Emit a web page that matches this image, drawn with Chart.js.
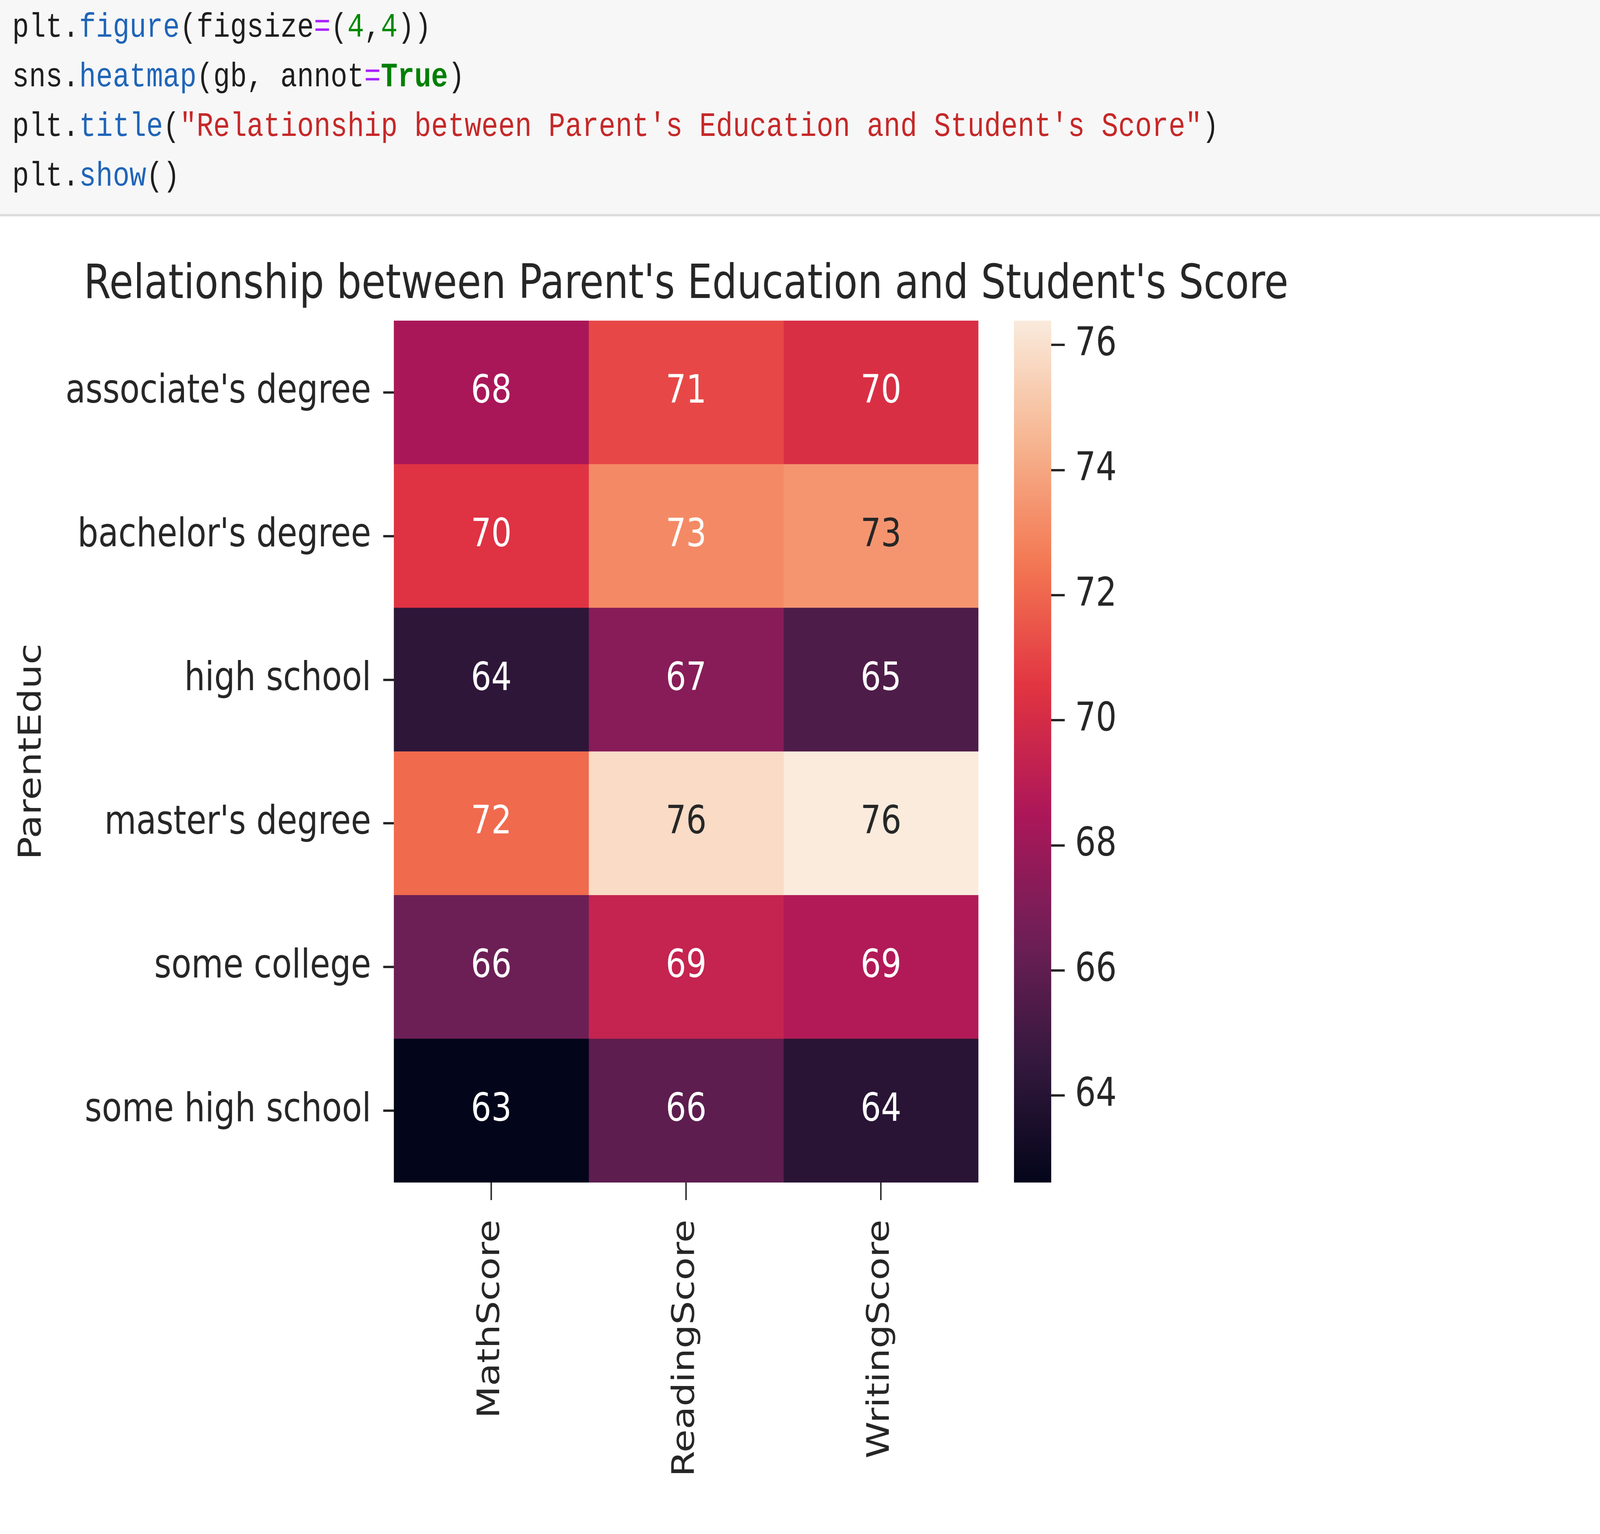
<!DOCTYPE html>
<html>
<head>
<meta charset="utf-8">
<script src="https://cdn.jsdelivr.net/npm/chart.js@4.4.1/dist/chart.umd.min.js"></script>
<style>
  html, body { margin: 0; padding: 0; background: #fff; overflow: hidden; width: 100%; height: 100%; }
  #frame { position: fixed; left: 0; top: 0; width: 100vw; height: 100vh; overflow: hidden; }
  /* page laid out in 6480x3928 picture pixels, squeezed by 1.3 sideways,
     then scaled to the window (the screenshot is stretched sideways) */
  #page {
    position: absolute; left: 0; top: 0;
    width: 4985px; height: 3928px;
    transform-origin: 0 0;
  }
  #code {
    position: absolute; left: 0; top: 0; width: 4985px; height: 548px;
    background: #f7f7f7; border-bottom: 6px solid #dcdcdc;
  }
  #code pre {
    margin: 0; padding: 8px 0 0 38px;
    font-family: "Liberation Mono", "DejaVu Sans Mono", monospace;
    font-size: 87px; line-height: 127px; color: #1e1e1e;
  }
  .pr { color: #2065b8; }
  .op { color: #aa22ff; }
  .nu { color: #008800; }
  .kw { color: #008000; font-weight: bold; }
  .st { color: #c62828; }
  .box { position: absolute; top: 565px; height: 3363px; }
</style>
</head>
<body>
<div id="frame">
<div id="page">
  <div id="code"><pre>plt.<span class="pr">figure</span>(figsize<span class="op">=</span>(<span class="nu">4</span>,<span class="nu">4</span>))
sns.<span class="pr">heatmap</span>(gb, annot<span class="op">=</span><span class="kw">True</span>)
plt.<span class="pr">title</span>(<span class="st">"Relationship between Parent's Education and Student's Score"</span>)
plt.<span class="pr">show</span>()</pre></div>
  <div class="box" style="left:0; width:4985px;"><canvas id="heat" width="4985" height="3363"></canvas></div>
  <div class="box" style="left:3159px; width:420px;"><canvas id="cbar" width="420" height="3363"></canvas></div>
</div>
</div>

<script>
// data (mean scores by parent's education)
const parentEduc = ["associate's degree", "bachelor's degree", "high school", "master's degree", "some college", "some high school"];
const scoreColumns = ["MathScore", "ReadingScore", "WritingScore"];
const mathScore    = [68.4, 70.4, 64.3, 72.1, 66.4, 62.61];
const readingScore = [71.1, 73.1, 67.3, 75.8, 69.4, 65.9];
const writingScore = [70.2, 73.45, 65.4, 76.39, 68.7, 64.1];
const colorbarTicks = [64, 66, 68, 70, 72, 74, 76];
const chartTitle = "Relationship between Parent's Education and Student's Score";
const yAxisTitle = "ParentEduc";

// fit the 6480x3928 layout into whatever the window really is
const kx = window.innerWidth / 6480;
const ky = window.innerHeight / 3928;
document.getElementById('page').style.transform = 'scale(' + (1.3 * kx) + ',' + ky + ')';

const columns = [mathScore, readingScore, writingScore];
const allValues = mathScore.concat(readingScore, writingScore);
const vmin = Math.min(...allValues);
const vmax = Math.max(...allValues);

// seaborn "rocket" colormap
const rocket = [
  [0, '#03051a'], [1/7, '#35193e'], [2/7, '#701f57'], [3/7, '#ad1759'],
  [4/7, '#e13342'], [5/7, '#f37651'], [6/7, '#f6b48f'], [1, '#faebdd']
];
function hexRgb(h) {
  return [1, 3, 5].map(i => parseInt(h.substr(i, 2), 16));
}
function rocketRgb(t) {
  t = Math.max(0, Math.min(1, t));
  for (let i = 1; i < rocket.length; i++) {
    if (t <= rocket[i][0]) {
      const a = rocket[i - 1], b = rocket[i];
      const f = (t - a[0]) / (b[0] - a[0]);
      const ca = hexRgb(a[1]), cb = hexRgb(b[1]);
      return ca.map((v, k) => Math.round(v + (cb[k] - v) * f));
    }
  }
  return hexRgb(rocket[rocket.length - 1][1]);
}
function cellRgb(v) {
  return rocketRgb((v - vmin) / (vmax - vmin));
}
function luminance(rgb) {
  const lin = rgb.map(c => {
    c = c / 255;
    return c <= 0.03928 ? c / 12.92 : Math.pow((c + 0.055) / 1.055, 2.4);
  });
  return 0.2126 * lin[0] + 0.7152 * lin[1] + 0.0722 * lin[2];
}

Chart.defaults.font.family = '"DejaVu Sans", sans-serif';
Chart.defaults.color = '#262626';

const textColor = '#262626';

// numbers in the cells, like annot=True
const annotPlugin = {
  id: 'annot',
  afterDatasetsDraw(chart) {
    const ctx = chart.ctx;
    const xs = chart.scales.x, ys = chart.scales.y;
    ctx.save();
    ctx.font = '100px "DejaVu Sans"';
    ctx.textAlign = 'center';
    ctx.textBaseline = 'middle';
    columns.forEach((vals, c) => {
      vals.forEach((v, r) => {
        const rgb = cellRgb(v);
        ctx.fillStyle = luminance(rgb) > 0.408 ? textColor : '#ffffff';
        ctx.fillText(String(Math.round(v)), xs.getPixelForValue(c + 0.5), ys.getPixelForValue(r));
      });
    });
    ctx.restore();
  }
};

// title centred over the heatmap axes
const titlePlugin = {
  id: 'axTitle',
  afterDraw(chart) {
    const ctx = chart.ctx, ca = chart.chartArea;
    ctx.save();
    ctx.font = '122px "DejaVu Sans"';
    ctx.fillStyle = textColor;
    ctx.textAlign = 'center';
    ctx.textBaseline = 'alphabetic';
    ctx.fillText(chartTitle, (ca.left + ca.right) / 2, ca.top - 58);
    ctx.restore();
  }
};

new Chart(document.getElementById('heat'), {
  type: 'bar',
  data: {
    labels: parentEduc,
    datasets: columns.map((vals, c) => ({
      label: scoreColumns[c],
      data: vals.map(() => [c, c + 1]),
      backgroundColor: vals.map(v => 'rgb(' + cellRgb(v).join(',') + ')'),
      borderWidth: 0,
      barPercentage: 1,
      categoryPercentage: 1,
      grouped: false
    }))
  },
  options: {
    indexAxis: 'y',
    responsive: false,
    animation: false,
    layout: { padding: { top: 256, right: 1937, left: 0, bottom: 0 } },
    plugins: { legend: { display: false }, tooltip: { enabled: false } },
    scales: {
      x: {
        type: 'linear',
        min: 0,
        max: scoreColumns.length,
        afterBuildTicks: axis => {
          axis.ticks = scoreColumns.map((c, i) => ({ value: i + 0.5 }));
        },
        afterFit: s => { s.height = 900; },
        border: { display: false },
        grid: { drawOnChartArea: false, tickLength: 45, lineWidth: 4.5, color: textColor },
        ticks: {
          autoSkip: false,
          minRotation: 90,
          maxRotation: 90,
          padding: 50,
          color: textColor,
          font: { size: 96 },
          callback: (v, i) => scoreColumns[i]
        }
      },
      y: {
        type: 'category',
        afterFit: s => { s.width = 1227; },
        border: { display: false },
        grid: { offset: false, drawOnChartArea: false, tickLength: 33, lineWidth: 6, color: textColor },
        ticks: { padding: 38, color: textColor, font: { size: 102 } },
        title: {
          display: true,
          text: yAxisTitle,
          color: textColor,
          font: { size: 98 },
          padding: { top: 43, bottom: 0 }
        }
      }
    }
  },
  plugins: [annotPlugin, titlePlugin]
});

// colour bar
new Chart(document.getElementById('cbar'), {
  type: 'bar',
  data: {
    labels: [''],
    datasets: [{
      data: [[vmin, vmax]],
      borderWidth: 0,
      barPercentage: 1,
      categoryPercentage: 1,
      backgroundColor: ctx => {
        const ca = ctx.chart.chartArea;
        if (!ca) return '#888';
        const g = ctx.chart.ctx.createLinearGradient(0, ca.bottom, 0, ca.top);
        for (let i = 0; i <= 40; i++) {
          const rgb = rocketRgb(i / 40);
          g.addColorStop(i / 40, 'rgb(' + rgb.join(',') + ')');
        }
        return g;
      }
    }]
  },
  options: {
    responsive: false,
    animation: false,
    layout: { padding: { top: 256, bottom: 900, left: 0, right: 0 } },
    plugins: { legend: { display: false }, tooltip: { enabled: false } },
    scales: {
      x: { display: false },
      y: {
        position: 'right',
        min: vmin,
        max: vmax,
        afterBuildTicks: axis => {
          axis.ticks = colorbarTicks.map(v => ({ value: v }));
        },
        afterFit: s => { s.width = 304; },
        border: { display: false },
        grid: { drawOnChartArea: false, tickLength: 42, lineWidth: 6, color: textColor },
        ticks: { padding: 32, color: textColor, font: { size: 102 }, callback: v => String(v) }
      }
    }
  }
});
</script>
</body>
</html>
